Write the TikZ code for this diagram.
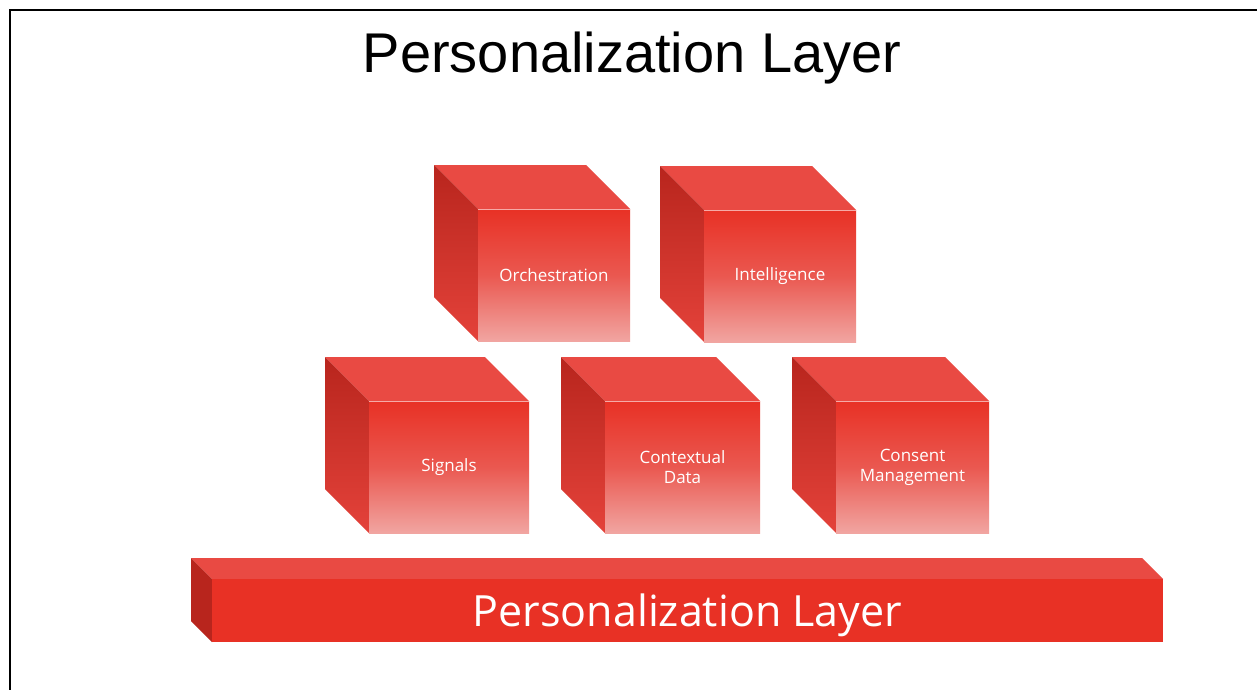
\documentclass[tikz,border=0pt]{standalone}
\usepackage{fontspec}
\setmainfont{Open Sans}
\newfontfamily\titlefont{Liberation Sans}

\definecolor{cubetop}{RGB}{233,74,67}
\definecolor{cubeside}{RGB}{184,37,29}
\definecolor{cubesidelow}{RGB}{228,66,58}
\definecolor{cubefront}{RGB}{232,49,37}
\definecolor{cubefrontmid}{RGB}{234,88,80}
\definecolor{cubefrontlow}{RGB}{241,165,161}
\definecolor{edgelight}{RGB}{246,170,166}

\tikzset{
	frontface/.style={rectangle, minimum height=132pt, inner sep=0pt,
		top color=cubefront, bottom color=cubefrontlow, middle color=cubefrontmid,
		text=white, align=center, font=\fontsize{17}{20}\selectfont},
}

% one red cube: name, back corner x, back corner y, front width, label
\newcommand{\redcube}[5]{
	\fill[cubetop] (#2,#3) -- ++(#4,0) -- ++(44,44) -- ++(-#4,0) -- cycle;
	\shade[top color=cubeside, bottom color=cubesidelow] (#2,#3) -- ++(44,44) -- ++(0,132) -- ++(-44,-44) -- cycle;
	\node[frontface, minimum width=#4pt] (#1) at (#2+44+#4/2,#3+110) {#5};
	\draw[edgelight, line width=0.6pt] (#1.north west) -- (#1.north east);
}

\begin{document}
\begin{tikzpicture}[x=1pt, y=-1pt]
	\useasboundingbox (0,0) rectangle (1257,689);
	\fill[white] (0,0) rectangle (1257,689);
	\draw[line width=2pt] (10,695) -- (10,10) -- (1265,10);

	\node[anchor=base, font=\titlefont\fontsize{56}{60}\selectfont] (title) at (632,72) {Personalization Layer};

	\redcube{orch}{434}{165}{152}{Orchestration}
	\redcube{intel}{660}{166}{152}{Intelligence}

	\redcube{signals}{325}{357}{160}{Signals}
	\redcube{context}{561}{357}{155}{Contextual\\Data}
	\redcube{consent}{792}{357}{153}{Consent\\Management}

	% the base bar
	\fill[cubetop] (191,558) -- (1142,558) -- (1163,579) -- (212,579) -- cycle;
	\fill[cubeside] (191,558) -- (212,579) -- (212,642) -- (191,621) -- cycle;
	\node[rectangle, fill=cubefront, minimum width=951pt, minimum height=63pt, inner sep=0pt,
		text height=31pt, text depth=0pt,
		text=white, font=\fontsize{43}{46}\selectfont] (layer) at (687.5,610.5) {Personalization Layer};
\end{tikzpicture}
\end{document}
